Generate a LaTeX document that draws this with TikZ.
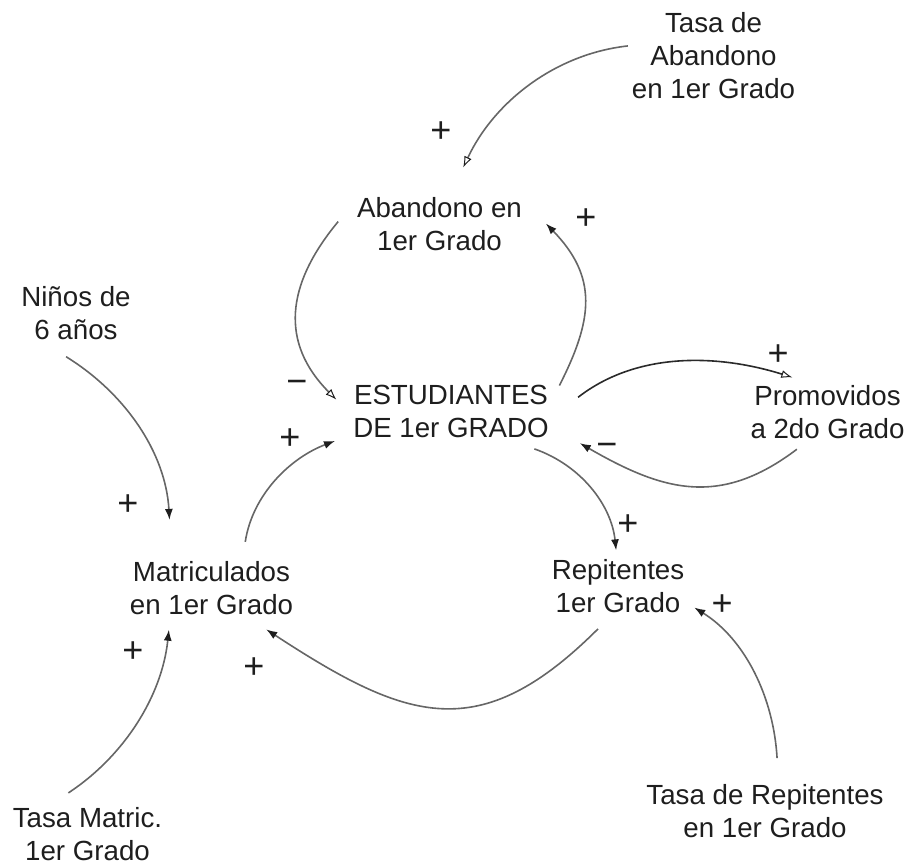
\documentclass[tikz,border=0pt]{standalone}
\usepackage{fontspec}
\setmainfont{Liberation Sans}
\usetikzlibrary{arrows.meta}
\newcommand\vsfont{\fontsize{27.7pt}{33pt}\selectfont}
\newcommand\sgfont{\fontsize{36pt}{40pt}\selectfont}
\definecolor{ink}{HTML}{1E1E1E}
\definecolor{wire}{HTML}{666666}
\definecolor{darkwire}{HTML}{2A2A2A}
\tikzset{
  var/.style={align=center, inner sep=0pt, outer sep=0pt, font=\vsfont, text=ink},
  sign/.style={inner sep=0pt, outer sep=0pt, font=\sgfont, text=ink},
  link/.style={draw=wire, line width=1.6pt},
  filledtip/.style={-{Latex[length=11pt,width=8pt,color=ink]}},
  opentip/.style={-{Latex[open,length=11pt,width=8pt,color=ink,line width=1pt]}}
}
\begin{document}
\begin{tikzpicture}[x=1pt,y=-1pt]
\useasboundingbox (0,0) rectangle (909,866);

% variables
\node[var] (tasaab)  at (713.5,55.5) {Tasa de\\Abandono\\en 1er Grado};
\node[var] (aband)   at (439.5,224)  {Abandono en\\1er Grado};
\node[var] (ninos)   at (76,313.5)   {Niños de\\6 años};
\node[var] (est)     at (451,411.5)  {ESTUDIANTES\\DE 1er GRADO};
\node[var] (prom)    at (827.5,412.5){Promovidos\\a 2do Grado};
\node[var] (matr)    at (211.5,588.5){Matriculados\\en 1er Grado};
\node[var] (rep)     at (618,586)    {Repitentes\\1er Grado};
\node[var] (tasarep) at (765,811.5)  {Tasa de Repitentes\\en 1er Grado};
\node[var] (tasamat) at (87.5,834)   {Tasa Matric.\\1er Grado};

% causal links
\draw[link, opentip, shorten <=4pt, shorten >=33pt]
  (tasaab.173.8) .. controls (555,54) and (494,102) .. (aband.70);
\draw[link, opentip, shorten <=29.6pt, shorten >=24pt]
  (aband.163) .. controls (285.5,285) and (280,343) .. (est.183.9);
\draw[link, filledtip, shorten <=20.2pt, shorten >=19.5pt]
  (matr.41.2) .. controls (252.6,493.9) and (290.9,457.6) .. (est.193.4);
\draw[link, filledtip, shorten <=23.4pt, shorten >=34.4pt]
  (est.3.5) .. controls (593.3,319) and (597.8,277) .. (aband.17.3);
\draw[link, draw=darkwire, opentip, shorten <=37.1pt, shorten >=28.3pt]
  (est.355.5) .. controls (637.7,351) and (718.9,354.4) .. (prom.107.6);
\draw[link, filledtip, shorten <=16.7pt, shorten >=35.8pt]
  (prom.237.5) .. controls (719.1,508.2) and (661.9,490.5) .. (est.352.6);
\draw[link, filledtip, shorten <=33.6pt, shorten >=9pt]
  (est.333.9) .. controls (580.5,465) and (611.3,504.6) .. (rep.92.2);
\draw[link, filledtip, shorten <=23pt, shorten >=26pt]
  (rep.262.5) .. controls (479.5,747.1) and (407.1,721.5) .. (matr.321.7);
\draw[link, filledtip, shorten <=31.5pt, shorten >=42pt]
  (ninos.216.3) .. controls (124.6,392.8) and (165.6,452) .. (matr.146.8);
\draw[link, filledtip, shorten <=26.3pt, shorten >=14.6pt]
  (tasamat.147) .. controls (123.8,756.4) and (161.9,696.5) .. (matr.213.7);
\draw[link, filledtip, shorten <=26.7pt, shorten >=11.8pt]
  (tasarep.63.9) .. controls (773.6,697.1) and (745,639.1) .. (rep.347.4);

% polarity signs
\node[sign] (p1)  at (441,132) {+};
\node[sign] (p2)  at (586,219) {+};
\node[sign] (m3)  at (297,387) {−};
\node[sign] (p4)  at (290,439) {+};
\node[sign] (p5)  at (778,355) {+};
\node[sign] (m6)  at (607,450) {−};
\node[sign] (p7)  at (628,525) {+};
\node[sign] (p8)  at (722,605) {+};
\node[sign] (p9)  at (128,505) {+};
\node[sign] (p10) at (133,652) {+};
\node[sign] (p11) at (254,668) {+};
\end{tikzpicture}
\end{document}
